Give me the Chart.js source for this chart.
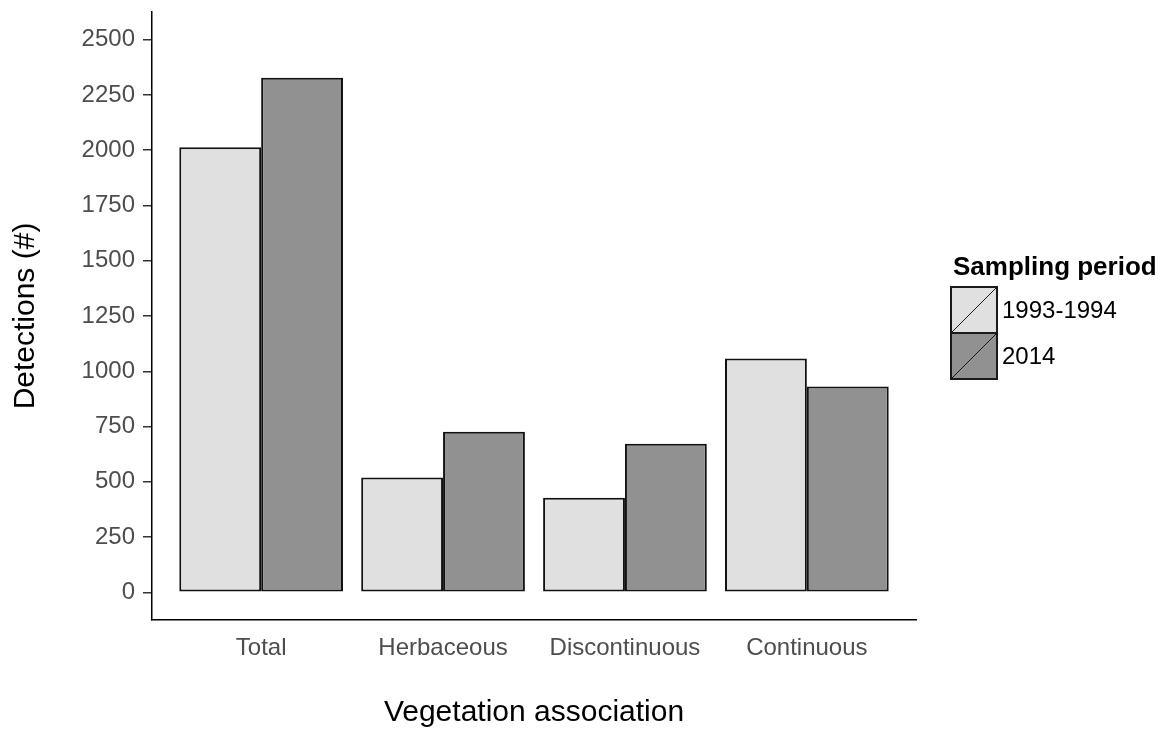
<!DOCTYPE html>
<html>
<head>
<meta charset="utf-8">
<script src="https://cdn.jsdelivr.net/npm/chart.js@4.4.1/dist/chart.umd.min.js"></script>
<style>
  html, body { margin: 0; padding: 0; background: #fff; }
  #wrap { width: 1166px; height: 736px; }
</style>
</head>
<body>
<div id="wrap"><canvas id="bars" width="1166" height="736"></canvas></div>
<script>
const categories = ["Total", "Herbaceous", "Discontinuous", "Continuous"];
const periods = ["1993-1994", "2014"];
const early = [2013, 519, 428, 1058];
const late = [2328, 726, 672, 931];
const yTicks = [0, 250, 500, 750, 1000, 1250, 1500, 1750, 2000, 2250, 2500];
const fills = ["#E0E0E0", "#919191"];

const font = "Liberation Sans, Arial, sans-serif";

// ggplot-style legend with a diagonal stroke in each key
const sideLegend = {
    id: 'sideLegend',
    afterDraw(chart) {
        const c = chart.ctx;
        c.save();
        c.fillStyle = "#000";
        c.font = "bold 26px " + font;
        c.textBaseline = "alphabetic";
        c.textAlign = "left";
        c.fillText("Sampling period", 953, 275);
        const x0 = 951, w = 46, h = 46;
        periods.forEach(function(p, i) {
            const y0 = 287 + i * h;
            c.fillStyle = fills[i];
            c.fillRect(x0, y0, w, h);
            c.strokeStyle = "#1a1a1a";
            c.lineWidth = 2;
            c.strokeRect(x0, y0, w, h);
            c.lineWidth = 1;
            c.beginPath();
            c.moveTo(x0, y0 + h);
            c.lineTo(x0 + w, y0);
            c.stroke();
            c.fillStyle = "#000";
            c.font = "24px " + font;
            c.textBaseline = "middle";
            c.fillText(p, 1002, y0 + h / 2 + 1);
        });
        c.restore();
    }
};

new Chart(document.getElementById('bars').getContext('2d'), {
    type: 'bar',
    data: {
        datasets: [
            { label: periods[0], data: early.map((v, i) => ({ x: i + 1, y: v })), backgroundColor: fills[0] },
            { label: periods[1], data: late.map((v, i) => ({ x: i + 1, y: v })), backgroundColor: fills[1] }
        ]
    },
    options: {
        responsive: false,
        animation: false,
        categoryPercentage: 0.9,
        barPercentage: 1.0,
        datasets: { bar: { borderColor: "#111", borderWidth: 2, borderSkipped: false } },
        layout: { padding: { top: 12, right: 250, left: 0, bottom: 0 } },
        plugins: { legend: { display: false }, tooltip: { enabled: false } },
        scales: {
            x: {
                type: 'linear',
                offset: false,
                min: 0.4,
                max: 4.6,
                afterBuildTicks: function(scale) { scale.ticks = categories.map((c, i) => ({ value: i + 1 })); },
                afterFit: function(scale) { scale.height = 116; scale.paddingLeft = 0; scale.paddingRight = 0; },
                grid: { display: true, offset: false, drawOnChartArea: false, drawTicks: false },
                border: { display: true, color: "#000", width: 1.5 },
                ticks: {
                    autoSkip: false,
                    maxRotation: 0,
                    padding: 14,
                    color: "#4D4D4D",
                    font: { family: font, size: 24 },
                    callback: function(v) { return categories[v - 1]; }
                },
                title: {
                    display: true,
                    text: "Vegetation association",
                    color: "#000",
                    font: { family: font, size: 30 },
                    padding: { top: 0, bottom: 5 }
                }
            },
            y: {
                min: -125,
                max: 2625,
                afterBuildTicks: function(scale) { scale.ticks = yTicks.map(v => ({ value: v })); },
                afterFit: function(scale) { scale.width = 152; scale.paddingTop = 0; scale.paddingBottom = 0; },
                grid: { display: true, drawOnChartArea: false, drawTicks: true, tickLength: 9, color: "#333", lineWidth: 1.5 },
                border: { display: true, color: "#000", width: 1.5 },
                ticks: {
                    padding: 8,
                    color: "#4D4D4D",
                    font: { family: font, size: 24 },
                    callback: function(v) { return String(v); }
                },
                title: {
                    display: true,
                    text: "Detections (#)",
                    color: "#000",
                    font: { family: font, size: 30 },
                    padding: { top: 8, bottom: 0 }
                }
            }
        }
    },
    plugins: [sideLegend]
});
</script>
</body>
</html>
